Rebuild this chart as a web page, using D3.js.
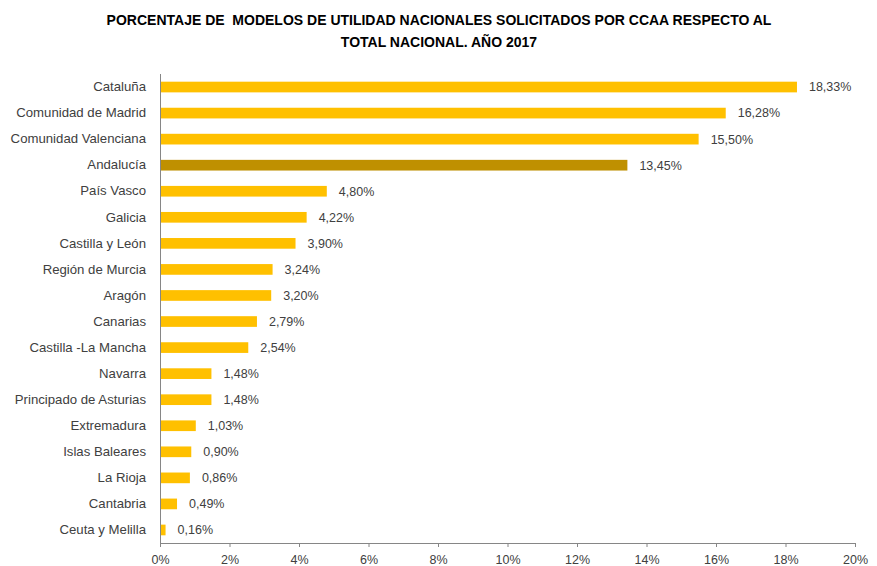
<!DOCTYPE html>
<html><head><meta charset="utf-8">
<script src="https://cdn.jsdelivr.net/npm/d3@7"></script>
<style>
body{margin:0;background:#fff;}
svg text{font-family:"Liberation Sans",Arial,sans-serif;}
</style></head>
<body><svg id="chart" width="877" height="566"></svg>
<script>
const categories = ["Cataluña","Comunidad de Madrid","Comunidad Valenciana","Andalucía","País Vasco","Galicia","Castilla y León","Región de Murcia","Aragón","Canarias","Castilla -La Mancha","Navarra","Principado de Asturias","Extremadura","Islas Baleares","La Rioja","Cantabria","Ceuta y Melilla"];
const values = [18.33,16.28,15.50,13.45,4.80,4.22,3.90,3.24,3.20,2.79,2.54,1.48,1.48,1.03,0.90,0.86,0.49,0.16];
const highlighted = ["Andalucía"];
const xTicks = [0,2,4,6,8,10,12,14,16,18,20];
const titleLines = ["PORCENTAJE DE  MODELOS DE UTILIDAD NACIONALES SOLICITADOS POR CCAA RESPECTO AL","TOTAL NACIONAL. AÑO 2017"];

const svg = d3.select("#chart");
const x = d3.scaleLinear().domain([0,20]).range([160,855]);
const y = d3.scaleBand().domain(categories).range([74,543]).paddingInner(0.59).paddingOuter(0.295);
const fmt = v => d3.format(".2f")(v).replace(".", ",") + "%";

svg.append("g").selectAll("text").data(titleLines).join("text")
  .attr("x", 439).attr("y", (d,i)=>25 + i*22)
  .attr("text-anchor","middle").attr("font-weight","bold").attr("font-size",14).attr("fill","#000")
  .style("white-space","pre").text(d=>d);

svg.append("g").selectAll("rect").data(categories).join("rect")
  .attr("x", x(0)).attr("y", d=>y(d)).attr("height", y.bandwidth())
  .attr("width", (d,i)=>x(values[i])-x(0))
  .attr("fill", d=> highlighted.includes(d) ? "#BF9000" : "#FFC000");

svg.append("g").selectAll("text").data(categories).join("text")
  .attr("x", (d,i)=>x(values[i])+12).attr("y", d=>y(d)+y.bandwidth()/2)
  .attr("dy","0.35em").attr("font-size",12.5).attr("fill","#404040")
  .text((d,i)=>fmt(values[i]));

const yAxis = svg.append("g").attr("transform",`translate(${x(0)},0)`)
  .call(d3.axisLeft(y).tickSize(0).tickPadding(14));
yAxis.select(".domain").attr("stroke","#868686").attr("d","M0.5,74V543.5");
yAxis.selectAll("text").attr("font-size",13.2).attr("fill","#404040").style("font-family",null);

const xAxis = svg.append("g").attr("transform",`translate(0,543)`)
  .call(d3.axisBottom(x).tickValues(xTicks).tickSize(4).tickSizeOuter(0).tickPadding(8).tickFormat(d=>d+"%"));
xAxis.select(".domain").attr("stroke","#868686");
xAxis.selectAll(".tick line").attr("stroke","#868686");
xAxis.selectAll("text").attr("font-size",12.5).attr("fill","#404040").style("font-family",null);
</script></body></html>
